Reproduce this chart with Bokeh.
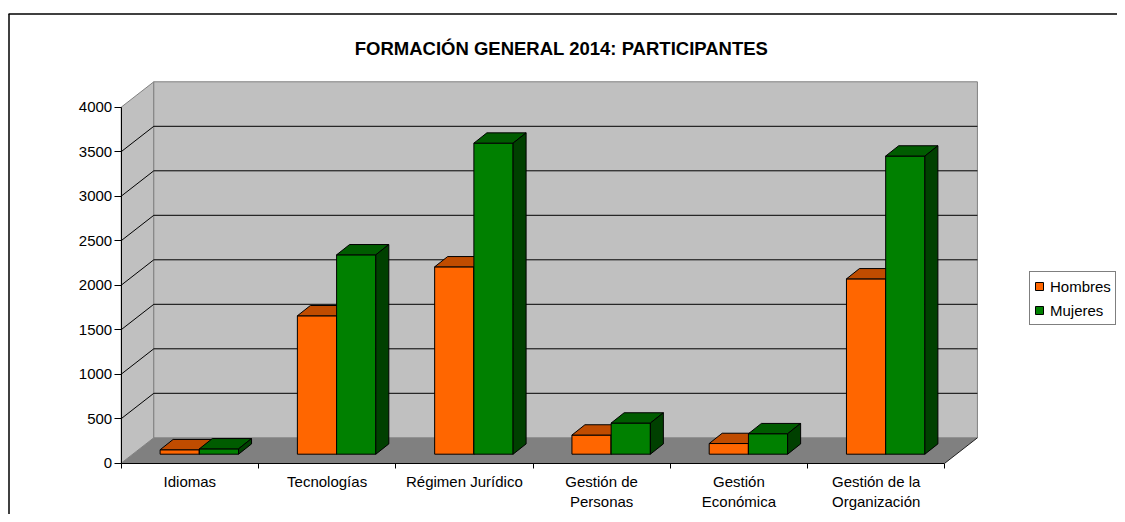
from bokeh.plotting import figure
from bokeh.models import LinearAxis, FixedTicker, Range1d, Legend, LegendItem
from bokeh.core.properties import value
from bokeh.embed import file_html
from bokeh.resources import INLINE

# ---------------- data ----------------
categories = ["Idiomas", "Tecnologías", "Régimen Jurídico",
              "Gestión de\nPersonas", "Gestión\nEconómica", "Gestión de la\nOrganización"]
hombres = [50, 1555, 2105, 215, 120, 1970]
mujeres = [60, 2240, 3495, 350, 230, 3350]
series_names = ["Hombres", "Mujeres"]
y_ticks = [0, 500, 1000, 1500, 2000, 2500, 3000, 3500, 4000]
title_text = "FORMACIÓN GENERAL 2014: PARTICIPANTES"

# ---------------- layout (pixels) ----------------
W, H = 1117, 514
AX_X = 120.7      # front value axis, px from figure left
AX_Y = 462.7      # front floor edge, px from figure top
SX = 137.27       # px per category
SY = 0.089        # px per participant
WALL_DX, WALL_DY = 32.6, 25.4     # depth of floor / walls
BAR_FX, BAR_FY = 9.5, 9.0         # offset of bar front faces
BAR_DX, BAR_DY = 13.0, 10.3       # depth of bars
GAP = 1.5                          # gap width relative to a bar

x_start = -AX_X / SX
x_end = (W - AX_X) / SX
y_start = -(H - AX_Y) / SY
y_end = AX_Y / SY


def dx(px):
    return px / SX


def dy(px):
    return px / SY


def fx(px):
    return x_start + px / SX


def fy(py):
    return y_end - py / SY


n = len(categories)
ymax = y_ticks[-1]
FONT = "Liberation Sans"

p = figure(width=W, height=H, x_range=Range1d(x_start, x_end), y_range=Range1d(y_start, y_end),
           output_backend="svg", toolbar_location=None, tools="",
           x_axis_type=None, y_axis_type=None, min_border=0)
p.outline_line_color = None
p.background_fill_color = "white"
p.border_fill_color = "white"

# outer chart border
p.segment(x0=[fx(8), fx(8.5)], y0=[fy(13.5), fy(13.5)], x1=[fx(W), fx(8.5)], y1=[fy(13.5), fy(H)],
          line_color="black", line_width=1.5)

wx, wy = dx(WALL_DX), dy(WALL_DY)
# side wall
p.patch(x=[0, 0, wx, wx], y=[0, ymax, ymax + wy, wy], fill_color="#C0C0C0",
        line_color="#808080", line_width=1)
# back wall
p.quad(left=[wx], right=[n + wx], bottom=[wy], top=[ymax + wy], fill_color="#C0C0C0",
       line_color="#808080", line_width=1)
# floor
p.patch(x=[0, n, n + wx, wx], y=[0, 0, wy, wy], fill_color="#808080", line_color=None)
p.segment(x0=[n], y0=[0], x1=[n + wx], y1=[wy], line_color="#202020", line_width=1)

# gridlines
grid_vals = y_ticks[1:-1]
p.segment(x0=[wx] * len(grid_vals), y0=[t + wy for t in grid_vals],
          x1=[n + wx] * len(grid_vals), y1=[t + wy for t in grid_vals],
          line_color="black", line_width=1)
p.segment(x0=[0] * len(grid_vals), y0=grid_vals,
          x1=[wx] * len(grid_vals), y1=[t + wy for t in grid_vals],
          line_color="black", line_width=1)

# bars
bw = 1.0 / (2 + GAP)
bfx, bfy = dx(BAR_FX), dy(BAR_FY)
bdx, bdy = dx(BAR_DX), dy(BAR_DY)
styles = [("#FF6600", "#C04C00", "#803300"), ("#008000", "#005C00", "#004000")]
front_renderers = []
for s, vals in enumerate([hombres, mujeres]):
    front, top, side = styles[s]
    L = [i + 0.5 + bfx - bw + s * bw for i in range(n)]
    R = [l + bw for l in L]
    B = [bfy] * n
    T = [v + bfy for v in vals]
    r = p.quad(left=L, right=R, bottom=B, top=T, fill_color=front,
               line_color="black", line_width=1)
    front_renderers.append(r)
    p.patches(xs=[[l, rr, rr + bdx, l + bdx] for l, rr in zip(L, R)],
              ys=[[t, t, t + bdy, t + bdy] for t in T],
              fill_color=top, line_color="black", line_width=1)
    p.patches(xs=[[rr, rr, rr + bdx, rr + bdx] for rr in R],
              ys=[[b, t, t + bdy, b + bdy] for b, t in zip(B, T)],
              fill_color=side, line_color="black", line_width=1)

# value axis
yaxis = LinearAxis(fixed_location=0, bounds=(0, ymax), ticker=FixedTicker(ticks=y_ticks),
                   major_tick_out=7, major_tick_in=0, minor_tick_out=0, minor_tick_in=0,
                   major_label_standoff=2, major_label_text_font=FONT,
                   major_label_text_font_size="15px", major_label_text_color="black",
                   axis_line_color="black", major_tick_line_color="black")
p.add_layout(yaxis, "left")

# category axis
centers = [i + 0.5 for i in range(n)]
bounds_ticks = list(range(n + 1))
xaxis = LinearAxis(fixed_location=0, bounds=(0, n),
                   ticker=FixedTicker(ticks=centers, minor_ticks=bounds_ticks),
                   major_tick_out=0, major_tick_in=0, minor_tick_out=5, minor_tick_in=0,
                   minor_tick_line_color="black", axis_line_color="black",
                   major_label_overrides={c: lab for c, lab in zip(centers, categories)},
                   major_label_standoff=5, major_label_text_font=FONT,
                   major_label_text_font_size="15px", major_label_text_color="black",
                   major_label_text_line_height=1.15)
p.add_layout(xaxis, "below")

# title
p.text(x=[fx(561)], y=[fy(48.3)], text=[title_text], text_font=value(FONT),
       text_font_style="bold", text_font_size=value("18.5px"), text_align="center",
       text_baseline="alphabetic", text_color="black")

# legend (kept fully inside the canvas)
legend = Legend(items=[LegendItem(label=series_names[0], renderers=[front_renderers[0]]),
                       LegendItem(label=series_names[1], renderers=[front_renderers[1]])],
                location=(1029, H - 325), orientation="vertical", margin=0,
                border_line_color="black", border_line_width=1,
                background_fill_color="white", background_fill_alpha=1,
                padding=4, spacing=4, label_height=20, glyph_height=10, glyph_width=10,
                label_standoff=6, label_text_font=FONT, label_text_font_size="15px",
                label_text_color="black")
p.add_layout(legend)

open("out.html", "w").write(file_html(p, INLINE))
